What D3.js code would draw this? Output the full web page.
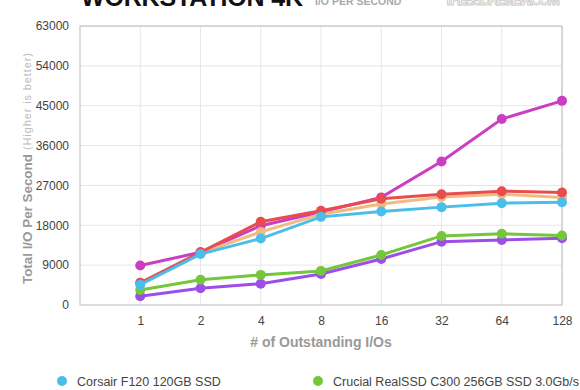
<!DOCTYPE html>
<html>
<meta charset="utf-8">
<head>
<script src="https://cdn.jsdelivr.net/npm/d3@7/dist/d3.min.js"></script>
<style>
  body { margin: 0; background: #fff; }
  text { font-family: "Liberation Sans", Arial, sans-serif; }
</style>
</head>
<body>
<div id="chart"></div>
<script>
// queue depths along the x axis
var queueDepths = ["1", "2", "4", "8", "16", "32", "64", "128"];
var yTicks = [0, 9000, 18000, 27000, 36000, 45000, 54000, 63000];

// values, one array per drive
var purpleVals  = [2000, 3800, 4800, 7000, 10400, 14300, 14700, 15100];
var greenVals   = [3400, 5700, 6800, 7700, 11300, 15600, 16100, 15700];
var magentaVals = [8900, 11900, 17900, 21000, 24300, 32400, 42000, 46100];
var orangeVals  = [5000, 11700, 16500, 20500, 22800, 24400, 25000, 24300];
var redVals     = [5000, 11900, 18800, 21300, 24000, 25000, 25700, 25400];
var blueVals    = [4600, 11500, 15000, 19900, 21100, 22100, 23000, 23200];

var legendNames = ["Corsair F120 120GB SSD", "Crucial RealSSD C300 256GB SSD 3.0Gb/s"];

var series = [
  {vals: purpleVals,  color: "#9d4ee8"},
  {vals: greenVals,   color: "#74c63b"},
  {vals: magentaVals, color: "#cc3ec1"},
  {vals: orangeVals,  color: "#f0bb80"},
  {vals: redVals,     color: "#e94c4f"},
  {vals: blueVals,    color: "#4bbdea"}
];

var W = 580, H = 390;
var pL = 80, pR = 562, pT = 26, pB = 305;

var svg = d3.select("#chart").append("svg")
    .attr("width", W)
    .attr("height", H);

// title, cut off at the top like the original
svg.append("text")
    .attr("x", 81).attr("y", 6)
    .attr("font-size", 25).attr("font-weight", "bold")
    .attr("fill", "#111")
    .attr("textLength", 222)
    .text("WORKSTATION 4K");
svg.append("text")
    .attr("x", 315).attr("y", 5)
    .attr("font-size", 10.5).attr("font-weight", "bold")
    .attr("fill", "#aaa")
    .text("I/O PER SECOND");
svg.append("text")
    .attr("x", 444).attr("y", 5)
    .attr("font-size", 15).attr("font-weight", "bold")
    .attr("fill", "#fff").attr("stroke", "#ccc").attr("stroke-width", 1)
    .attr("textLength", 116)
    .text("THESSDREVIEW.COM");

var x = d3.scalePoint()
    .domain([""].concat(queueDepths))
    .range([pL, pR]);

var y = d3.scaleLinear()
    .domain([0, 63000])
    .range([pB, pT]);

// soft shadow under the plot
var grad = svg.append("defs").append("radialGradient")
    .attr("id", "shade").attr("cx", "50%").attr("cy", "0%").attr("r", "60%");
grad.append("stop").attr("offset", "0%").attr("stop-color", "#000").attr("stop-opacity", 0.07);
grad.append("stop").attr("offset", "100%").attr("stop-color", "#000").attr("stop-opacity", 0);
svg.append("ellipse")
    .attr("cx", (pL + pR) / 2).attr("cy", pB)
    .attr("rx", (pR - pL) / 2).attr("ry", 14)
    .attr("fill", "url(#shade)");

svg.append("rect")
    .attr("x", pL).attr("y", pT)
    .attr("width", pR - pL).attr("height", pB - pT)
    .attr("fill", "#fff");

// grid
svg.append("g").selectAll("line")
    .data(yTicks.slice(1))
    .enter().append("line")
    .attr("x1", pL).attr("x2", pR)
    .attr("y1", function(d) { return y(d); })
    .attr("y2", function(d) { return y(d); })
    .attr("stroke", "#e6e6e6");

svg.append("g").selectAll("line")
    .data(queueDepths)
    .enter().append("line")
    .attr("x1", function(d) { return x(d); })
    .attr("x2", function(d) { return x(d); })
    .attr("y1", pT).attr("y2", pB)
    .attr("stroke", "#e6e6e6");

svg.append("rect")
    .attr("x", pL).attr("y", pT)
    .attr("width", pR - pL).attr("height", pB - pT)
    .attr("fill", "none").attr("stroke", "#bbb");

// axes
var yAxis = svg.append("g")
    .attr("transform", "translate(" + pL + ",0)")
    .call(d3.axisLeft(y).tickValues(yTicks).tickFormat(d3.format("d"))
      .tickSize(0).tickPadding(11));
yAxis.select(".domain").remove();
yAxis.selectAll("text")
    .attr("font-size", 12).attr("fill", "#444")
    .style("font-family", "Liberation Sans, Arial, sans-serif");

var xAxis = svg.append("g")
    .attr("transform", "translate(0," + pB + ")")
    .call(d3.axisBottom(x).tickValues(queueDepths).tickSize(0).tickPadding(11));
xAxis.select(".domain").remove();
xAxis.selectAll("text")
    .attr("font-size", 12).attr("fill", "#444")
    .style("font-family", "Liberation Sans, Arial, sans-serif");

// axis titles
svg.append("text")
    .attr("x", (pL + pR) / 2).attr("y", 347)
    .attr("text-anchor", "middle")
    .attr("font-size", 14).attr("font-weight", "bold")
    .attr("fill", "#999")
    .text("# of Outstanding I/Os");

svg.append("text")
    .attr("transform", "translate(32,284) rotate(-90)")
    .attr("font-size", 13.5).attr("font-weight", "bold")
    .attr("fill", "#999")
    .attr("textLength", 130)
    .text("Total I/O Per Second");
svg.append("text")
    .attr("transform", "translate(31,150) rotate(-90)")
    .attr("font-size", 11)
    .attr("fill", "#bbb")
    .attr("textLength", 97)
    .text("(Higher is better)");

// lines and markers
var line = d3.line()
    .x(function(d, i) { return x(queueDepths[i]); })
    .y(function(d) { return y(d); });

series.forEach(function(s) {
  var g = svg.append("g");
  g.append("path")
      .datum(s.vals)
      .attr("d", line)
      .attr("fill", "none")
      .attr("stroke", s.color)
      .attr("stroke-width", 3);
  g.selectAll("circle")
      .data(s.vals)
      .enter().append("circle")
      .attr("cx", function(d, i) { return x(queueDepths[i]); })
      .attr("cy", function(d) { return y(d); })
      .attr("r", 5)
      .attr("fill", s.color);
});

// legend (first row only is visible)
var legendColors = ["#4bbdea", "#74c63b"];
var legendX = [62, 318];
legendNames.forEach(function(name, i) {
  svg.append("circle")
      .attr("cx", legendX[i]).attr("cy", 381)
      .attr("r", 5)
      .attr("fill", legendColors[i]);
  svg.append("text")
      .attr("x", legendX[i] + 15).attr("y", 385.5)
      .attr("font-size", 12.5).attr("fill", "#444")
      .text(name);
});
</script>
</body>
</html>
